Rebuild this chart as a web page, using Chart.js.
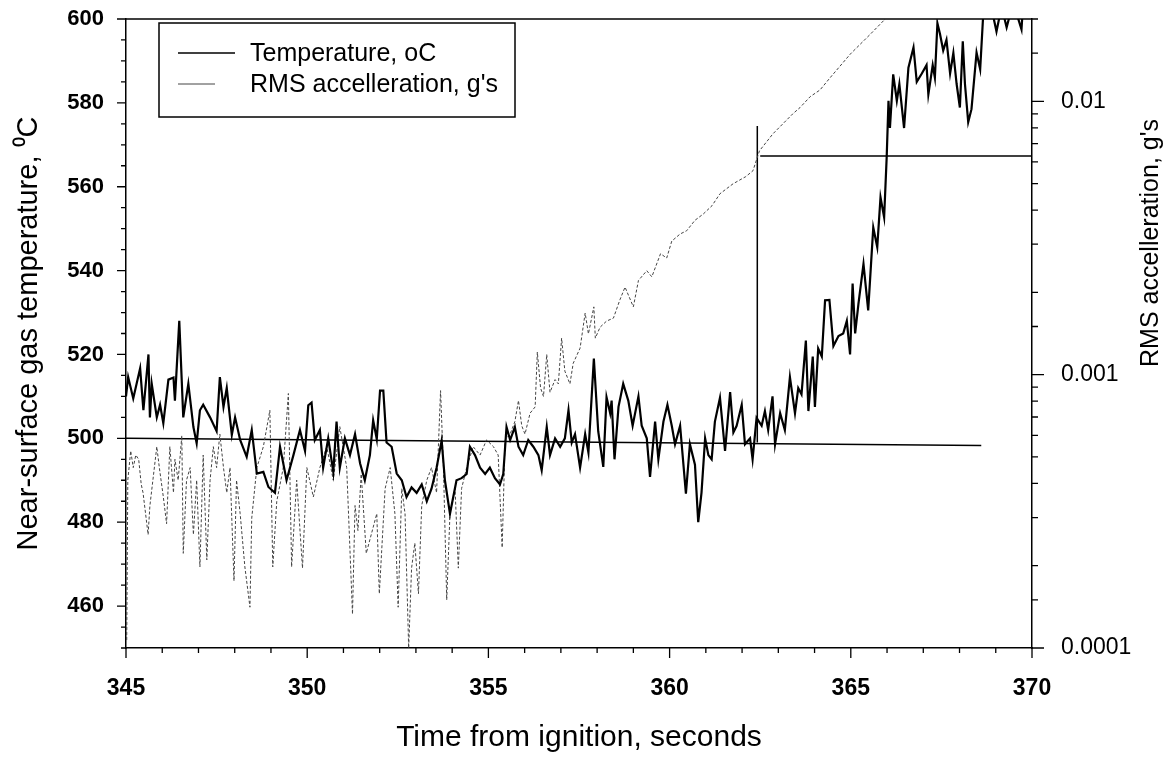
<!DOCTYPE html>
<html lang="en">
<head>
    <meta charset="UTF-8">
    <title>Near-surface gas temperature and RMS acceleration</title>
    <script src="https://cdn.jsdelivr.net/npm/chart.js"></script>
    <style>
        html, body {
            margin: 0;
            padding: 0;
            background: #fff;
        }
    </style>
</head>
<body>
    <canvas id="chart" width="1169" height="761"></canvas>

    <script>
        // temperature trace (left axis, oC)
        const tempTime = [
            345.00, 345.06, 345.20, 345.39, 345.48, 345.62, 345.66, 345.71, 345.85, 345.94,
            346.03, 346.17, 346.31, 346.35, 346.47, 346.58, 346.72, 346.86, 346.95, 347.04,
            347.13, 347.32, 347.50, 347.59, 347.69, 347.78, 347.92, 348.01, 348.15, 348.33,
            348.47, 348.61, 348.79, 348.93, 349.11, 349.25, 349.43, 349.62, 349.80, 349.94,
            350.03, 350.12, 350.21, 350.35, 350.44, 350.58, 350.72, 350.81, 350.90, 351.04,
            351.18, 351.32, 351.46, 351.59, 351.73, 351.82, 351.92, 352.01, 352.10, 352.19,
            352.33, 352.47, 352.61, 352.74, 352.88, 353.02, 353.16, 353.30, 353.43, 353.57,
            353.71, 353.80, 353.94, 354.03, 354.12, 354.26, 354.40, 354.49, 354.63, 354.77,
            354.91, 355.04, 355.18, 355.32, 355.41, 355.50, 355.60, 355.73, 355.83, 355.96,
            356.10, 356.24, 356.38, 356.47, 356.61, 356.70, 356.84, 356.98, 357.11, 357.21,
            357.30, 357.39, 357.53, 357.67, 357.76, 357.91, 358.03, 358.17, 358.26, 358.36,
            358.40, 358.48, 358.59, 358.72, 358.86, 358.98, 359.14, 359.23, 359.37, 359.46,
            359.60, 359.69, 359.83, 359.94, 360.06, 360.15, 360.29, 360.45, 360.56, 360.70,
            360.79, 360.88, 360.98, 361.07, 361.16, 361.25, 361.39, 361.53, 361.67, 361.76,
            361.85, 361.99, 362.08, 362.22, 362.29, 362.40, 362.54, 362.63, 362.72, 362.84,
            362.91, 363.05, 363.18, 363.32, 363.46, 363.55, 363.64, 363.76, 363.83, 363.95,
            364.01, 364.10, 364.20, 364.29, 364.41, 364.52, 364.66, 364.79, 364.89, 364.98,
            365.05, 365.12, 365.21, 365.35, 365.48, 365.62, 365.73, 365.82, 365.92, 365.99,
            366.04, 366.08, 366.17, 366.27, 366.34, 366.47, 366.59, 366.73, 366.82, 366.96,
            367.09, 367.14, 367.26, 367.32, 367.39, 367.46, 367.55, 367.64, 367.74, 367.83,
            367.92, 368.01, 368.09, 368.15, 368.24, 368.33, 368.47, 368.57, 368.66, 368.80,
            369.02, 369.16, 369.30, 369.48, 369.71, 369.75
        ];
        const tempValue = [
            510, 514.6, 509.5, 516.7, 506.7, 520, 505, 513, 505, 508,
            503.6, 514, 514.5, 509, 528, 505, 513, 502.7, 498.8, 506.7,
            508, 505, 501.7, 514.6, 507.5, 512, 500.8, 505, 499.6, 495.6,
            502, 491.6, 492, 488.4, 487, 498, 490, 496, 502, 497,
            507.9, 508.5, 499.6, 502, 493, 500, 492, 504, 493, 500,
            496, 501, 494, 490, 496, 504.3, 499.8, 511.4, 511.4, 499,
            498, 491.6, 490, 486, 488.3, 487, 489, 485, 488, 493,
            499.5, 490, 482, 486, 490, 490.5, 491.5, 498, 496, 493,
            491.5, 493, 490.5, 489, 491.5, 502.7, 499.6, 502.7, 498, 496,
            499.6, 498, 496, 492.4, 502.7, 496, 500, 498, 500, 506.7,
            499, 501, 493, 501, 496.6, 519, 501.7, 493.2, 509.8, 506,
            509, 495, 507.5, 513, 509, 503, 510, 503, 500, 490.8,
            504, 495, 504, 508, 503, 498.6, 503, 486.8, 498.6, 493.7,
            480, 487, 500, 496, 495, 504, 509.7, 497, 511, 501.4,
            503, 508, 498.6, 500, 495, 504.9, 503, 506.5, 502, 510,
            498.6, 506, 502, 514.6, 506, 512, 510.5, 523.3, 506.5, 519.5,
            507.5, 521.4, 519.5, 532.9, 533, 522, 524.4, 525, 528, 520,
            536.9, 525, 532, 541.6, 530.5, 550.3, 545.6, 557.5, 552.7, 567,
            580.5, 574, 586.8, 580.5, 584.5, 574, 588.4, 593.2, 585, 587,
            589, 582, 589, 586, 599, 596.5, 592.5, 595, 587, 591.9,
            584.5, 578.9, 594.7, 584.5, 575.4, 578.5, 592, 588, 602, 606,
            597, 603, 598, 604, 597.5, 603
        ];

        // RMS acceleration trace (right axis, g's)
        const accelTime = [
            345.02, 345.05, 345.13, 345.20, 345.27, 345.35, 345.42, 345.47, 345.61, 345.66,
            345.85, 345.92, 346.03, 346.12, 346.21, 346.31, 346.35, 346.44, 346.54, 346.58,
            346.67, 346.77, 346.86, 346.95, 347.04, 347.13, 347.23, 347.32, 347.41, 347.50,
            347.59, 347.69, 347.78, 347.87, 347.98, 348.05, 348.15, 348.28, 348.42, 348.47,
            348.61, 348.79, 348.97, 349.05, 349.16, 349.34, 349.48, 349.57, 349.71, 349.87,
            349.99, 350.17, 350.35, 350.54, 350.72, 350.90, 351.09, 351.25, 351.32, 351.40,
            351.49, 351.63, 351.92, 351.99, 352.15, 352.29, 352.42, 352.51, 352.61, 352.70,
            352.80, 352.88, 352.97, 353.07, 353.16, 353.30, 353.43, 353.57, 353.68, 353.76,
            353.85, 353.94, 354.08, 354.17, 354.26, 354.40, 354.58, 354.77, 354.95, 355.14,
            355.27, 355.38, 355.46, 355.60, 355.73, 355.83, 355.92, 356.01, 356.15, 356.29,
            356.35, 356.44, 356.52, 356.61, 356.70, 356.84, 356.93, 357.02, 357.11, 357.25,
            357.34, 357.53, 357.67, 357.76, 357.91, 357.95, 358.08, 358.26, 358.45, 358.63,
            358.77, 359.00, 359.14, 359.37, 359.51, 359.75, 359.92, 360.06, 360.29, 360.47,
            360.70, 360.93, 361.17, 361.39, 361.75, 362.10, 362.30, 362.48, 362.85, 363.40,
            363.60, 363.88, 364.15, 364.43, 364.99, 365.54, 365.95, 366.50, 367.00
        ];
        const accelValue = [
            1.07e-4, 4.11e-4, 5.26e-4, 4.57e-4, 5.08e-4, 4.90e-4, 3.97e-4, 3.70e-4, 2.60e-4, 3.32e-4,
            5.45e-4, 4.57e-4, 3.57e-4, 2.85e-4, 5.45e-4, 3.70e-4, 4.90e-4, 4.11e-4, 5.98e-4, 2.22e-4,
            4.11e-4, 4.57e-4, 2.60e-4, 4.11e-4, 1.98e-4, 5.08e-4, 2.10e-4, 4.11e-4, 5.45e-4, 4.57e-4,
            6.06e-4, 4.57e-4, 3.70e-4, 4.57e-4, 1.76e-4, 4.11e-4, 3.10e-4, 1.98e-4, 1.41e-4, 2.99e-4,
            4.57e-4, 5.45e-4, 7.41e-4, 1.98e-4, 3.44e-4, 4.57e-4, 8.53e-4, 1.98e-4, 4.11e-4, 1.96e-4,
            4.57e-4, 3.57e-4, 4.57e-4, 5.45e-4, 4.11e-4, 6.45e-4, 4.57e-4, 1.33e-4, 3.32e-4, 2.69e-4,
            4.33e-4, 2.22e-4, 3.10e-4, 1.58e-4, 3.83e-4, 4.57e-4, 3.10e-4, 1.41e-4, 3.83e-4, 3.10e-4,
            1.00e-4, 1.96e-4, 2.42e-4, 1.58e-4, 3.32e-4, 4.11e-4, 4.57e-4, 3.70e-4, 8.74e-4, 4.57e-4,
            1.50e-4, 3.10e-4, 3.83e-4, 1.96e-4, 3.83e-4, 4.57e-4, 5.45e-4, 5.08e-4, 5.77e-4, 5.45e-4,
            5.08e-4, 2.33e-4, 5.77e-4, 6.06e-4, 6.73e-4, 8.04e-4, 6.50e-4, 6.06e-4, 7.23e-4, 7.62e-4,
            1.21e-3, 8.93e-4, 8.32e-4, 1.185e-3, 8.62e-4, 9.59e-4, 9.25e-4, 1.36e-3, 1.03e-3, 9.25e-4,
            1.10e-3, 1.25e-3, 1.68e-3, 1.41e-3, 1.77e-3, 1.36e-3, 1.49e-3, 1.57e-3, 1.61e-3, 1.88e-3,
            2.09e-3, 1.77e-3, 2.21e-3, 2.40e-3, 2.28e-3, 2.77e-3, 2.67e-3, 3.08e-3, 3.27e-3, 3.36e-3,
            3.67e-3, 3.87e-3, 4.15e-3, 4.59e-3, 4.99e-3, 5.30e-3, 5.57e-3, 6.59e-3, 7.60e-3, 9.00e-3,
            9.49e-3, 1.04e-2, 1.10e-2, 1.22e-2, 1.49e-2, 1.76e-2, 2.0e-2, 2.4e-2, 2.9e-2
        ];

        // reference lines drawn on the temperature axis
        const baseTime = [345, 368.6];
        const baseTemp = [500, 498.3];
        const stepTime = [362.42, 362.42];
        const stepTemp = [499, 574.5];
        const upperTime = [362.5, 370];
        const upperTemp = [567.3, 567.3];

        // right axis ticks
        const accelDecades = [0.0001, 0.001, 0.01];
        const accelDecadeLabels = ['0.0001', '0.001', '0.01'];
        const accelMinorFactors = [1.5, 2, 3, 4, 5, 6, 7, 8, 9];

        const FONT = '"Liberation Sans", Arial, sans-serif';
        Chart.defaults.font.family = FONT;
        Chart.defaults.color = '#000';

        const toPoints = (xs, ys) => xs.map((x, i) => ({ x: x, y: ys[i] }));

        function isDecade(v) {
            return accelDecades.findIndex(d => Math.abs(v / d - 1) < 1e-6);
        }

        const framePlugin = {
            id: 'frame',
            afterDraw(chart) {
                const ctx = chart.ctx;
                const a = chart.chartArea;
                const sx = chart.scales.x, sy = chart.scales.y, sr = chart.scales.y2;

                ctx.save();
                ctx.strokeStyle = '#000';
                ctx.lineWidth = 1.5;
                ctx.beginPath();
                ctx.moveTo(a.left, a.top);
                ctx.lineTo(a.right, a.top);
                ctx.stroke();

                // tick marks
                ctx.lineWidth = 1.3;
                ctx.beginPath();
                sx.ticks.forEach(t => {
                    const p = sx.getPixelForValue(t.value);
                    const len = t.value % 5 === 0 ? 10 : 5;
                    ctx.moveTo(p, a.bottom);
                    ctx.lineTo(p, a.bottom + len);
                });
                sy.ticks.forEach(t => {
                    const p = sy.getPixelForValue(t.value);
                    const len = t.value % 20 === 0 ? 9 : 5;
                    ctx.moveTo(a.left, p);
                    ctx.lineTo(a.left - len, p);
                });
                sr.ticks.forEach(t => {
                    const p = sr.getPixelForValue(t.value);
                    const len = isDecade(t.value) >= 0 ? 12 : 6;
                    ctx.moveTo(a.right, p);
                    ctx.lineTo(a.right + len, p);
                });
                ctx.stroke();

                // right axis title, reading upwards
                ctx.save();
                ctx.translate(a.right + 119, a.top + 224);
                ctx.rotate(-Math.PI / 2);
                ctx.font = '25px ' + FONT;
                ctx.textAlign = 'center';
                ctx.textBaseline = 'middle';
                ctx.fillStyle = '#000';
                ctx.fillText("RMS accelleration, g's", 0, 0);
                ctx.restore();

                // legend box
                const bx = a.left + 33, by = a.top + 4, bw = 356, bh = 94;
                ctx.fillStyle = '#fff';
                ctx.fillRect(bx, by, bw, bh);
                ctx.lineWidth = 1.5;
                ctx.strokeRect(bx, by, bw, bh);

                const items = [
                    { ds: chart.data.datasets[0], len: 57, y: by + 30 },
                    { ds: chart.data.datasets[1], len: 37, y: by + 61 }
                ];
                ctx.font = '25px ' + FONT;
                ctx.textAlign = 'left';
                ctx.textBaseline = 'middle';
                items.forEach(it => {
                    ctx.strokeStyle = it.ds.borderColor;
                    ctx.lineWidth = Math.min(it.ds.borderWidth, 1.5);
                    ctx.beginPath();
                    ctx.moveTo(bx + 19, it.y);
                    ctx.lineTo(bx + 19 + it.len, it.y);
                    ctx.stroke();
                    ctx.fillStyle = '#000';
                    ctx.fillText(it.ds.label, bx + 91, it.y + 1);
                });
                ctx.restore();
            }
        };

        const noVerticalPad = s => { s.paddingTop = 0; s.paddingBottom = 0; };

        const chart = new Chart(document.getElementById('chart'), {
            type: 'line',
            data: {
                datasets: [
                    {
                        label: 'Temperature, oC',
                        data: toPoints(tempTime, tempValue),
                        yAxisID: 'y',
                        borderColor: '#000',
                        borderWidth: 2.2,
                        pointRadius: 0,
                        tension: 0
                    },
                    {
                        label: "RMS accelleration, g's",
                        data: toPoints(accelTime, accelValue),
                        yAxisID: 'y2',
                        borderColor: '#444',
                        borderWidth: 1,
                        borderDash: [3, 2],
                        pointRadius: 0,
                        tension: 0
                    },
                    {
                        label: 'base',
                        data: toPoints(baseTime, baseTemp),
                        yAxisID: 'y',
                        borderColor: '#000',
                        borderWidth: 1.5,
                        pointRadius: 0
                    },
                    {
                        label: 'step',
                        data: toPoints(stepTime, stepTemp),
                        yAxisID: 'y',
                        borderColor: '#000',
                        borderWidth: 1.5,
                        pointRadius: 0
                    },
                    {
                        label: 'upper',
                        data: toPoints(upperTime, upperTemp),
                        yAxisID: 'y',
                        borderColor: '#000',
                        borderWidth: 1.5,
                        pointRadius: 0
                    }
                ]
            },
            options: {
                responsive: false,
                animation: false,
                layout: { padding: { top: 19, left: 0, right: 0, bottom: 0 } },
                plugins: {
                    legend: { display: false },
                    tooltip: { enabled: false }
                },
                scales: {
                    x: {
                        type: 'linear',
                        position: 'bottom',
                        min: 345,
                        max: 370,
                        ticks: {
                            stepSize: 1,
                            autoSkip: false,
                            maxRotation: 0,
                            padding: 17,
                            font: { size: 23, weight: 'bold' },
                            callback: v => (v % 5 === 0 ? String(v) : '')
                        },
                        grid: { display: false, drawTicks: true, tickLength: 10 },
                        border: { display: true, color: '#000', width: 1.5 },
                        title: {
                            display: true,
                            text: 'Time from ignition, seconds',
                            font: { size: 30 },
                            padding: { top: 0, bottom: 5 }
                        },
                        afterFit: s => { s.height = 113; s.paddingLeft = 0; s.paddingRight = 0; }
                    },
                    y: {
                        type: 'linear',
                        position: 'left',
                        min: 450,
                        max: 600,
                        ticks: {
                            stepSize: 5,
                            autoSkip: false,
                            padding: 13,
                            font: { size: 22, weight: 'bold' },
                            callback: v => (v % 20 === 0 && v >= 460 ? String(v) : '')
                        },
                        grid: { display: false, drawTicks: true, tickLength: 9 },
                        border: { display: true, color: '#000', width: 1.5 },
                        title: {
                            display: true,
                            text: 'Near-surface gas temperature, ⁰C',
                            font: { size: 29 },
                            padding: { top: 12, bottom: 0 }
                        },
                        afterFit: s => { s.width = 126; noVerticalPad(s); }
                    },
                    y2: {
                        type: 'logarithmic',
                        position: 'right',
                        min: 0.0001,
                        max: 0.02,
                        afterBuildTicks: s => {
                            const list = [];
                            accelDecades.forEach(d => {
                                list.push({ value: d });
                                accelMinorFactors.forEach(f => {
                                    if (d * f <= 0.02 + 1e-9) list.push({ value: d * f });
                                });
                            });
                            s.ticks = list;
                        },
                        ticks: {
                            autoSkip: false,
                            padding: 17,
                            font: { size: 23 },
                            callback: v => {
                                const i = isDecade(v);
                                return i >= 0 ? accelDecadeLabels[i] : '';
                            }
                        },
                        grid: { display: false, drawTicks: true, tickLength: 12 },
                        border: { display: true, color: '#000', width: 1.5 },
                        afterFit: s => { s.width = 137; noVerticalPad(s); }
                    }
                }
            },
            plugins: [framePlugin]
        });
    </script>
</body>
</html>
